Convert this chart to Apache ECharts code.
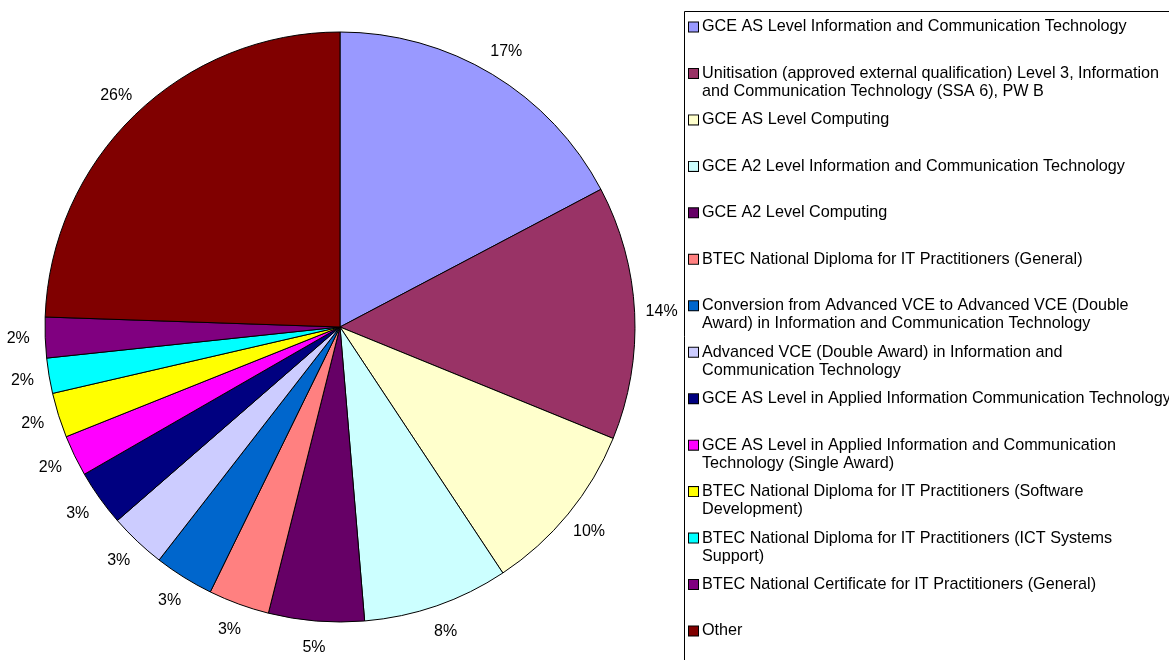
<!DOCTYPE html>
<html>
<head>
<meta charset="utf-8">
<script src="https://cdn.jsdelivr.net/npm/echarts@6/dist/echarts.min.js"></script>
<style>
html,body{margin:0;padding:0;background:#fff;}
#chart{width:1169px;height:660px;}
</style>
</head>
<body>
<div id="chart"></div>
<script>
var categories = [
  'GCE AS Level Information and Communication Technology',
  'Unitisation (approved external qualification) Level 3, Information and Communication Technology (SSA 6), PW B',
  'GCE AS Level Computing',
  'GCE A2 Level Information and Communication Technology',
  'GCE A2 Level Computing',
  'BTEC National Diploma for IT Practitioners (General)',
  'Conversion from Advanced VCE to Advanced VCE (Double Award) in Information and Communication Technology',
  'Advanced VCE (Double Award) in Information and Communication Technology',
  'GCE AS Level in Applied Information Communication Technology',
  'GCE AS Level in Applied Information and Communication Technology (Single Award)',
  'BTEC National Diploma for IT Practitioners (Software Development)',
  'BTEC National Diploma for IT Practitioners (ICT Systems Support)',
  'BTEC National Certificate for IT Practitioners (General)',
  'Other'
];
var legendLines = [
  ['GCE AS Level Information and Communication Technology'],
  ['Unitisation (approved external qualification) Level 3, Information', 'and Communication Technology (SSA 6), PW B'],
  ['GCE AS Level Computing'],
  ['GCE A2 Level Information and Communication Technology'],
  ['GCE A2 Level Computing'],
  ['BTEC National Diploma for IT Practitioners (General)'],
  ['Conversion from Advanced VCE to Advanced VCE (Double', 'Award) in Information and Communication Technology'],
  ['Advanced VCE (Double Award) in Information and', 'Communication Technology'],
  ['GCE AS Level in Applied Information Communication Technology'],
  ['GCE AS Level in Applied Information and Communication', 'Technology (Single Award)'],
  ['BTEC National Diploma for IT Practitioners (Software', 'Development)'],
  ['BTEC National Diploma for IT Practitioners (ICT Systems', 'Support)'],
  ['BTEC National Certificate for IT Practitioners (General)'],
  ['Other']
];
var shares = [17.26, 13.88, 9.52, 7.97, 5.23, 3.34, 3.26, 3.10, 3.07, 2.25, 2.45, 1.93, 2.22, 24.44];
var pctLabels = ['17%', '14%', '10%', '8%', '5%', '3%', '3%', '3%', '3%', '2%', '2%', '2%', '2%', '26%'];
var colors = ['#9999FF', '#993366', '#FFFFCC', '#CCFFFF', '#660066', '#FF8080', '#0066CC',
              '#CCCCFF', '#000080', '#FF00FF', '#FFFF00', '#00FFFF', '#800080', '#800000'];

var FONT = '"Liberation Sans", Arial, sans-serif';
var pieData = categories.map(function (n, i) {
  return { name: n, value: shares[i], itemStyle: { color: colors[i] } };
});
var labelData = categories.map(function (n, i) {
  return { name: n, value: shares[i], label: { formatter: pctLabels[i] } };
});

var rich = {
  s: { width: 13, height: 10, lineHeight: 18 },
  g: { width: 4, height: 10, lineHeight: 18 },
  t: { fontSize: 16.2, fontFamily: FONT, color: '#000', lineHeight: 18 }
};
colors.forEach(function (c, i) {
  rich['m' + i] = { width: 9, height: 9, backgroundColor: c, borderColor: '#000', borderWidth: 1, lineHeight: 18 };
});
var nameIndex = {};
categories.forEach(function (n, i) { nameIndex[n] = i; });

var chart = echarts.init(document.getElementById('chart'), null, { renderer: 'canvas' });
chart.setOption({
  animation: false,
  backgroundColor: '#fff',
  graphic: [{
    type: 'rect', silent: true,
    shape: { x: 684.5, y: 11.5, width: 700, height: 700 },
    style: { fill: 'none', stroke: '#000', lineWidth: 1 }
  }],
  legend: {
    orient: 'vertical',
    left: 684, top: 18, height: 700, width: 600,
    padding: 0,
    itemGap: 10.46,
    itemWidth: 0, itemHeight: 10,
    icon: 'none',
    selectedMode: false,
    data: categories,
    textStyle: { fontSize: 16.2, fontFamily: FONT, color: '#000', lineHeight: 18, rich: rich },
    formatter: function (name) {
      var i = nameIndex[name];
      var L = legendLines[i];
      var out = '{m' + i + '|}{g|}{t|' + L[0] + '}';
      if (L.length > 1) {
        out += '\n{s|}{t|' + L[1] + '}';
      } else {
        out += '\n{s|} ';
      }
      return out;
    }
  },
  series: [{
    type: 'pie',
    center: [340, 327],
    radius: 295,
    startAngle: 90,
    clockwise: true,
    avoidLabelOverlap: false,
    label: { show: false },
    labelLine: { show: false },
    emphasis: { disabled: true },
    itemStyle: { borderColor: '#000', borderWidth: 1 },
    data: pieData
  }, {
    type: 'pie',
    center: [340, 327],
    radius: [303, 335],
    startAngle: 90,
    clockwise: true,
    silent: true,
    avoidLabelOverlap: false,
    emphasis: { disabled: true },
    itemStyle: { color: 'rgba(0,0,0,0)', borderWidth: 0 },
    label: { show: true, position: 'inside', fontSize: 16, fontFamily: FONT, color: '#000', rotate: 0 },
    labelLine: { show: false },
    data: labelData
  }]
});
</script>
</body>
</html>
